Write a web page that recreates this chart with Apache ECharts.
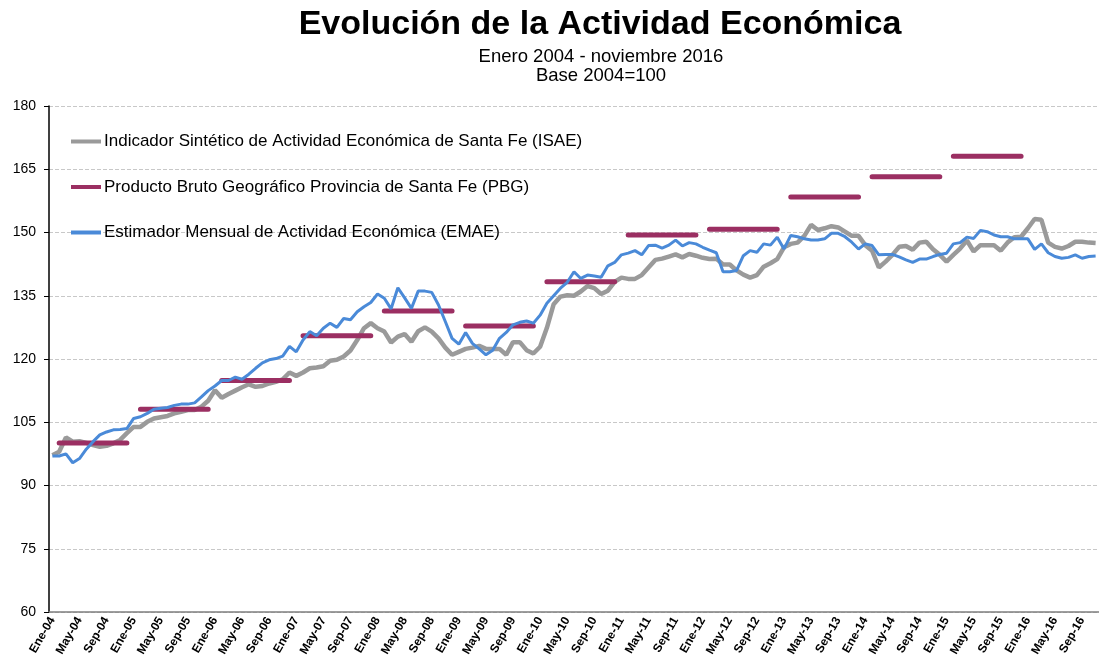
<!DOCTYPE html>
<html>
<head>
<meta charset="utf-8">
<script src="https://cdn.jsdelivr.net/npm/echarts@6/dist/echarts.min.js"></script>
<style>
  html, body { margin: 0; padding: 0; background: #fff; }
  #main { width: 1099px; height: 671px; }
</style>
</head>
<body>
<div id="main"></div>
<script>
// Etiquetas de meses y años del eje X
var meses = ['Ene', 'Feb', 'Mar', 'Abr', 'May', 'Jun', 'Jul', 'Ago', 'Sep', 'Oct', 'Nov', 'Dic'];
var anios = ['04', '05', '06', '07', '08', '09', '10', '11', '12', '13', '14', '15', '16'];

// ISAE mensual (ene-04 a nov-16)
var isae = [
    97.2, 98.0, 101.4, 100.4, 100.5, 100.1, 99.6, 99.2, 99.4, 100.0, 100.8, 102.4,
    103.9, 103.9, 105.1, 105.9, 106.2, 106.5, 107.1, 107.5, 107.9, 107.9, 108.7, 110.1,
    112.6, 110.8, 111.7, 112.5, 113.3, 114.0, 113.4, 113.6, 114.2, 114.6, 115.2, 116.8,
    116.0, 116.8, 117.8, 118.0, 118.3, 119.6, 119.8, 120.6, 122.0, 124.5, 127.3, 128.5,
    127.3, 126.5, 123.9, 125.3, 125.9, 124.1, 126.6, 127.5, 126.5, 124.9, 122.7, 121.0,
    121.7, 122.4, 122.7, 123.1, 122.4, 122.4, 122.4, 121.0, 124.0, 124.0, 122.1, 121.3,
    122.9, 127.4, 133.0, 134.8, 135.1, 135.0, 136.0, 137.3, 136.8, 135.4, 136.2, 138.3,
    139.3, 139.0, 139.0, 139.9, 141.7, 143.5, 143.8, 144.3, 144.8, 144.1, 144.9, 144.5,
    144.0, 143.7, 143.8, 142.4, 142.4, 141.0, 140.0, 139.3, 139.9, 141.9, 142.7, 143.7,
    146.5, 147.3, 147.6, 149.2, 151.8, 150.6, 151.0, 151.5, 151.2, 150.2, 149.2, 149.2,
    147.0, 145.7, 141.7, 143.1, 144.7, 146.6, 146.8, 145.9, 147.6, 147.8, 146.0, 144.7,
    143.1, 144.7, 146.2, 148.1, 145.5, 147.0, 147.0, 147.0, 145.7, 147.6, 148.9, 149.0,
    151.0, 153.2, 153.0, 147.6, 146.6, 146.2, 146.8, 147.8, 147.8, 147.6, 147.5
];

// EMAE mensual (ene-04 a nov-16)
var emae = [
    97.0, 97.0, 97.5, 95.4, 96.4, 98.6, 100.4, 102.0, 102.7, 103.2, 103.3, 103.5,
    105.9, 106.3, 107.1, 108.1, 108.3, 108.5, 109.0, 109.3, 109.3, 109.6, 111.0, 112.5,
    113.6, 114.9, 114.9, 115.7, 115.2, 116.4, 117.8, 119.1, 119.8, 120.1, 120.7, 123.0,
    121.7, 124.5, 126.5, 125.5, 127.3, 128.5, 127.5, 129.6, 129.3, 131.2, 132.4, 133.4,
    135.4, 134.4, 131.9, 136.9, 134.5, 132.0, 136.1, 136.1, 135.8, 132.8, 128.9, 124.9,
    123.5, 126.3, 123.7, 122.4, 121.0, 122.1, 124.9, 126.3, 128.1, 128.7, 129.0, 128.5,
    130.4, 133.2, 135.0, 136.8, 138.2, 140.7, 139.1, 139.9, 139.7, 139.4, 142.1, 142.9,
    144.7, 145.1, 145.7, 144.7, 146.9, 147.0, 146.3, 147.0, 148.2, 146.8, 147.6, 147.3,
    146.5, 145.8, 145.2, 140.7, 140.7, 141.0, 144.5, 145.7, 145.3, 147.3, 147.0, 148.9,
    146.1, 149.3, 149.0, 148.5, 148.2, 148.2, 148.5, 149.8, 149.8, 149.0, 147.7, 146.1,
    147.3, 146.9, 144.7, 144.8, 144.8, 144.2, 143.5, 142.9, 143.7, 143.7, 144.3, 144.8,
    145.1, 147.3, 147.6, 148.9, 148.6, 150.5, 150.2, 149.4, 149.0, 149.0, 148.5, 148.5,
    148.5, 146.0, 147.3, 145.2, 144.3, 143.9, 144.1, 144.7, 143.9, 144.3, 144.4
];

// PBG anual 2004-2015
var pbg = [100.1, 108.1, 114.9, 125.5, 131.4, 127.8, 138.3, 149.4, 150.8, 158.4, 163.2, 168.1];

var nombres = [
    'Indicador Sintético de Actividad Económica de Santa Fe (ISAE)',
    'Producto Bruto Geográfico Provincia de Santa Fe (PBG)',
    'Estimador Mensual de Actividad Económica (EMAE)'
];

var categorias = [];
anios.forEach(function (a) {
    meses.forEach(function (m) {
        if (categorias.length < isae.length) categorias.push(m + '-' + a);
    });
});

// PBG como tramos horizontales por año (sin enero, como en la planilla)
var pbgMensual = categorias.map(function (c, i) {
    var y = Math.floor(i / 12), m = i % 12;
    if (m === 0 || y >= pbg.length) return null;
    return pbg[y];
});

var chart = echarts.init(document.getElementById('main'));
chart.setOption({
    animation: false,
    textStyle: {fontFamily: 'Liberation Sans, Arial, sans-serif'},
    title: [{
        text: 'Evolución de la Actividad Económica',
        left: 595,
        top: 3,
        textAlign: 'center',
        textStyle: {fontSize: 34, fontWeight: 'bold', color: '#000'}
    }, {
        text: 'Enero 2004 - noviembre 2016\nBase 2004=100',
        left: 596,
        top: 42,
        textAlign: 'center',
        textStyle: {fontSize: 18.5, fontWeight: 'normal', color: '#000', lineHeight: 19}
    }],
    legend: {
        orient: 'vertical',
        left: 66,
        top: 128,
        icon: 'rect',
        itemWidth: 30,
        itemHeight: 4,
        itemGap: 28.5,
        data: nombres,
        textStyle: {fontSize: 17, color: '#000', padding: [0, 0, 0, -2]}
    },
    grid: {left: 49, top: 106, right: -11, bottom: 59, containLabel: false},
    xAxis: {
        type: 'category',
        data: categorias,
        boundaryGap: true,
        axisLine: {lineStyle: {color: '#7f7f7f', width: 1.5}},
        axisTick: {interval: 3, length: 5, lineStyle: {color: '#7f7f7f'}},
        axisLabel: {
            interval: 3,
            rotate: 60,
            margin: 6,
            fontSize: 12,
            fontWeight: 'bold',
            color: '#000'
        },
        splitLine: {show: false}
    },
    yAxis: {
        type: 'value',
        min: 60,
        max: 180,
        interval: 15,
        axisLine: {show: true, lineStyle: {color: '#000', width: 1.5}},
        axisTick: {show: true, length: 5, lineStyle: {color: '#000'}},
        axisLabel: {fontSize: 14, color: '#000', margin: 13},
        splitLine: {lineStyle: {color: '#c8c8c8', type: 'dashed', width: 1}}
    },
    series: [{
        name: nombres[0],
        type: 'line',
        data: isae,
        symbol: 'none',
        itemStyle: {color: '#9a9a9a'},
        lineStyle: {color: '#9a9a9a', width: 4.5}
    }, {
        name: nombres[1],
        type: 'line',
        data: pbgMensual,
        symbol: 'none',
        connectNulls: false,
        itemStyle: {color: '#9b2f62'},
        lineStyle: {color: '#9b2f62', width: 5, cap: 'round'}
    }, {
        name: nombres[2],
        type: 'line',
        data: emae,
        symbol: 'none',
        itemStyle: {color: '#4a8ad8'},
        lineStyle: {color: '#4a8ad8', width: 3}
    }]
});
</script>
</body>
</html>
